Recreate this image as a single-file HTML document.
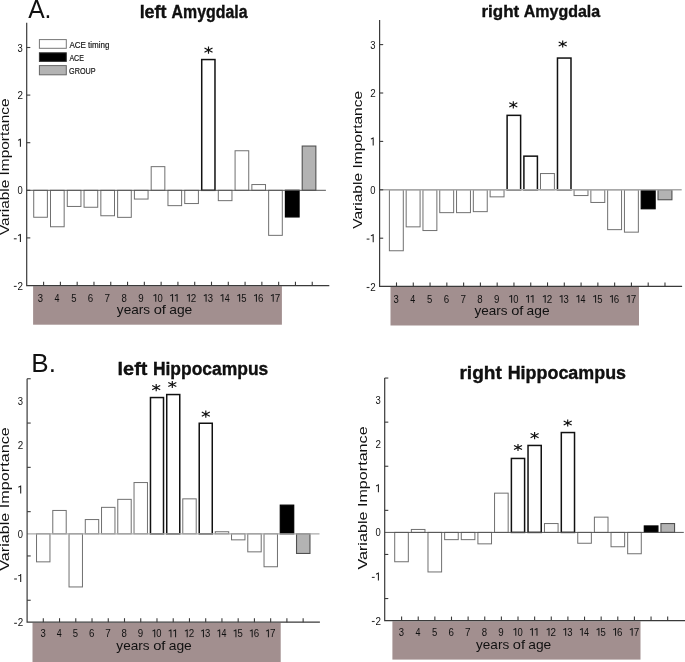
<!DOCTYPE html>
<html><head><meta charset="utf-8"><title>Variable Importance</title>
<style>html,body{margin:0;padding:0;background:#fff;}body{width:685px;height:662px;overflow:hidden;font-family:"Liberation Sans",sans-serif;}svg{display:block;will-change:transform;}</style>
</head><body>
<svg width="685" height="662" viewBox="0 0 685 662" font-family="Liberation Sans, sans-serif">
<rect x="33.1" y="286.2" width="248.8" height="38.5" fill="#a28f8f"/>
<rect x="33.72" y="190.3" width="13.66" height="26.95" fill="#fff" stroke="#707070" stroke-width="1.0"/>
<rect x="50.5" y="190.3" width="13.66" height="36.45" fill="#fff" stroke="#707070" stroke-width="1.0"/>
<rect x="67.28" y="190.3" width="13.66" height="16.15" fill="#fff" stroke="#707070" stroke-width="1.0"/>
<rect x="84.06" y="190.3" width="13.66" height="16.95" fill="#fff" stroke="#707070" stroke-width="1.0"/>
<rect x="100.84" y="190.3" width="13.66" height="25.45" fill="#fff" stroke="#707070" stroke-width="1.0"/>
<rect x="117.62" y="190.3" width="13.66" height="27.05" fill="#fff" stroke="#707070" stroke-width="1.0"/>
<rect x="134.4" y="190.3" width="13.66" height="8.75" fill="#fff" stroke="#707070" stroke-width="1.0"/>
<rect x="151.18" y="166.65" width="13.66" height="23.65" fill="#fff" stroke="#707070" stroke-width="1.0"/>
<rect x="167.96" y="190.3" width="13.66" height="15.35" fill="#fff" stroke="#707070" stroke-width="1.0"/>
<rect x="184.74" y="190.3" width="13.66" height="13.25" fill="#fff" stroke="#707070" stroke-width="1.0"/>
<rect x="201.72" y="59.55" width="13.26" height="130.75" fill="#fff" stroke="#111" stroke-width="1.5"/>
<rect x="218.3" y="190.3" width="13.66" height="10.35" fill="#fff" stroke="#707070" stroke-width="1.0"/>
<rect x="235.08" y="150.75" width="13.66" height="39.55" fill="#fff" stroke="#707070" stroke-width="1.0"/>
<rect x="251.86" y="184.55" width="13.66" height="5.75" fill="#fff" stroke="#707070" stroke-width="1.0"/>
<rect x="268.64" y="190.3" width="13.66" height="45.05" fill="#fff" stroke="#707070" stroke-width="1.0"/>
<rect x="285.42" y="190.3" width="13.66" height="26.65" fill="#000" stroke="#000" stroke-width="1.2"/>
<rect x="302.2" y="146.05" width="13.66" height="44.25" fill="#b3b3b3" stroke="#505050" stroke-width="1.1"/>
<line x1="26.7" y1="190.3" x2="325.9" y2="190.3" stroke="#555" stroke-width="1.0"/>
<path d="M26.7 22.8L26.7 285.7L329.3 285.7" stroke="#3a3a3a" stroke-width="1.2" fill="none"/>
<line x1="43.6" y1="281.7" x2="43.6" y2="285.7" stroke="#3a3a3a" stroke-width="1.1"/>
<line x1="60.39" y1="281.7" x2="60.39" y2="285.7" stroke="#3a3a3a" stroke-width="1.1"/>
<line x1="77.18" y1="281.7" x2="77.18" y2="285.7" stroke="#3a3a3a" stroke-width="1.1"/>
<line x1="93.97" y1="281.7" x2="93.97" y2="285.7" stroke="#3a3a3a" stroke-width="1.1"/>
<line x1="110.76" y1="281.7" x2="110.76" y2="285.7" stroke="#3a3a3a" stroke-width="1.1"/>
<line x1="127.55" y1="281.7" x2="127.55" y2="285.7" stroke="#3a3a3a" stroke-width="1.1"/>
<line x1="144.34" y1="281.7" x2="144.34" y2="285.7" stroke="#3a3a3a" stroke-width="1.1"/>
<line x1="161.13" y1="281.7" x2="161.13" y2="285.7" stroke="#3a3a3a" stroke-width="1.1"/>
<line x1="177.92" y1="281.7" x2="177.92" y2="285.7" stroke="#3a3a3a" stroke-width="1.1"/>
<line x1="194.71" y1="281.7" x2="194.71" y2="285.7" stroke="#3a3a3a" stroke-width="1.1"/>
<line x1="211.5" y1="281.7" x2="211.5" y2="285.7" stroke="#3a3a3a" stroke-width="1.1"/>
<line x1="228.29" y1="281.7" x2="228.29" y2="285.7" stroke="#3a3a3a" stroke-width="1.1"/>
<line x1="245.08" y1="281.7" x2="245.08" y2="285.7" stroke="#3a3a3a" stroke-width="1.1"/>
<line x1="261.87" y1="281.7" x2="261.87" y2="285.7" stroke="#3a3a3a" stroke-width="1.1"/>
<line x1="278.66" y1="281.7" x2="278.66" y2="285.7" stroke="#3a3a3a" stroke-width="1.1"/>
<line x1="295.45" y1="281.7" x2="295.45" y2="285.7" stroke="#3a3a3a" stroke-width="1.1"/>
<line x1="312.24" y1="281.7" x2="312.24" y2="285.7" stroke="#3a3a3a" stroke-width="1.1"/>
<line x1="26.7" y1="47.5" x2="30.3" y2="47.5" stroke="#3a3a3a" stroke-width="1.1"/>
<line x1="26.7" y1="95.1" x2="30.3" y2="95.1" stroke="#3a3a3a" stroke-width="1.1"/>
<line x1="26.7" y1="142.7" x2="30.3" y2="142.7" stroke="#3a3a3a" stroke-width="1.1"/>
<line x1="26.7" y1="190.3" x2="30.3" y2="190.3" stroke="#3a3a3a" stroke-width="1.1"/>
<line x1="26.7" y1="237.9" x2="30.3" y2="237.9" stroke="#3a3a3a" stroke-width="1.1"/>
<rect x="13.85" y="285.85" width="2.8" height="1.1" fill="#333"/>
<text x="17.38" y="289.5" font-size="11.3" textLength="5.49" lengthAdjust="spacingAndGlyphs" fill="#111">2</text>
<rect x="13.85" y="238.25" width="2.8" height="1.1" fill="#333"/>
<path d="M20.4 233.9V241.9M20.7 234.25L18.1 235.6" stroke="#1a1a1a" stroke-width="1.05" fill="none"/>
<text x="17.51" y="194.3" font-size="11.3" textLength="5.24" lengthAdjust="spacingAndGlyphs" fill="#111">0</text>
<path d="M20.4 138.7V146.7M20.7 139.05L18.1 140.4" stroke="#1a1a1a" stroke-width="1.05" fill="none"/>
<text x="17.38" y="99.1" font-size="11.3" textLength="5.49" lengthAdjust="spacingAndGlyphs" fill="#111">2</text>
<text x="17.51" y="51.5" font-size="11.3" textLength="5.28" lengthAdjust="spacingAndGlyphs" fill="#111">3</text>
<text x="37.64" y="301.8" font-size="11" textLength="5.28" lengthAdjust="spacingAndGlyphs" fill="#111">3</text>
<text x="54.58" y="301.8" font-size="11" textLength="4.97" lengthAdjust="spacingAndGlyphs" fill="#111">4</text>
<text x="71.18" y="301.8" font-size="11" textLength="5.28" lengthAdjust="spacingAndGlyphs" fill="#111">5</text>
<text x="87.84" y="301.8" font-size="11" textLength="5.42" lengthAdjust="spacingAndGlyphs" fill="#111">6</text>
<text x="104.61" y="301.8" font-size="11" textLength="5.51" lengthAdjust="spacingAndGlyphs" fill="#111">7</text>
<text x="121.48" y="301.8" font-size="11" textLength="5.33" lengthAdjust="spacingAndGlyphs" fill="#111">8</text>
<text x="138.22" y="301.8" font-size="11" textLength="5.42" lengthAdjust="spacingAndGlyphs" fill="#111">9</text>
<path d="M155.76 294V301.8M156.06 294.35L153.46 295.7" stroke="#1a1a1a" stroke-width="1.05" fill="none"/>
<text x="157.39" y="301.8" font-size="11" textLength="5.24" lengthAdjust="spacingAndGlyphs" fill="#111">0</text>
<path d="M172.54 294V301.8M172.84 294.35L170.24 295.7" stroke="#1a1a1a" stroke-width="1.05" fill="none"/>
<path d="M177.14 294V301.8M177.44 294.35L174.84 295.7" stroke="#1a1a1a" stroke-width="1.05" fill="none"/>
<path d="M189.32 294V301.8M189.62 294.35L187.02 295.7" stroke="#1a1a1a" stroke-width="1.05" fill="none"/>
<text x="190.82" y="301.8" font-size="11" textLength="5.49" lengthAdjust="spacingAndGlyphs" fill="#111">2</text>
<path d="M206.1 294V301.8M206.4 294.35L203.8 295.7" stroke="#1a1a1a" stroke-width="1.05" fill="none"/>
<text x="207.74" y="301.8" font-size="11" textLength="5.28" lengthAdjust="spacingAndGlyphs" fill="#111">3</text>
<path d="M222.88 294V301.8M223.18 294.35L220.58 295.7" stroke="#1a1a1a" stroke-width="1.05" fill="none"/>
<text x="224.68" y="301.8" font-size="11" textLength="4.97" lengthAdjust="spacingAndGlyphs" fill="#111">4</text>
<path d="M239.66 294V301.8M239.96 294.35L237.36 295.7" stroke="#1a1a1a" stroke-width="1.05" fill="none"/>
<text x="241.28" y="301.8" font-size="11" textLength="5.28" lengthAdjust="spacingAndGlyphs" fill="#111">5</text>
<path d="M256.44 294V301.8M256.74 294.35L254.14 295.7" stroke="#1a1a1a" stroke-width="1.05" fill="none"/>
<text x="257.94" y="301.8" font-size="11" textLength="5.42" lengthAdjust="spacingAndGlyphs" fill="#111">6</text>
<path d="M273.22 294V301.8M273.52 294.35L270.92 295.7" stroke="#1a1a1a" stroke-width="1.05" fill="none"/>
<text x="274.71" y="301.8" font-size="11" textLength="5.51" lengthAdjust="spacingAndGlyphs" fill="#111">7</text>
<text x="116.87" y="314" font-size="12.6" textLength="33.22" lengthAdjust="spacingAndGlyphs" fill="#111">years</text>
<text x="153.68" y="314" font-size="12.6" textLength="12.3" lengthAdjust="spacingAndGlyphs" fill="#111">of</text>
<text x="169.21" y="314" font-size="12.6" textLength="23.1" lengthAdjust="spacingAndGlyphs" fill="#111">age</text>
<text x="139.65" y="18.3" font-size="17.6" font-weight="bold" textLength="26.87" lengthAdjust="spacingAndGlyphs" fill="#111" stroke="#000" stroke-width="0.35">left</text>
<text x="171.6" y="18.3" font-size="17.6" font-weight="bold" textLength="75.89" lengthAdjust="spacingAndGlyphs" fill="#111" stroke="#000" stroke-width="0.35">Amygdala</text>
<text transform="translate(9.1 235) rotate(-90)" x="-0.07" y="0" font-size="12.3" textLength="136.65" lengthAdjust="spacingAndGlyphs" fill="#111">Variable Importance</text>
<path d="M208.5 46.5L208.5 53.7M204.49 48.06L212.51 52.14M204.49 52.14L212.51 48.06" stroke="#111" stroke-width="1.15" fill="none"/>
<rect x="390.5" y="287" width="248.5" height="38.5" fill="#a28f8f"/>
<rect x="389.38" y="189.8" width="13.91" height="60.95" fill="#fff" stroke="#707070" stroke-width="1.0"/>
<rect x="406.17" y="189.8" width="13.91" height="37.05" fill="#fff" stroke="#707070" stroke-width="1.0"/>
<rect x="422.96" y="189.8" width="13.91" height="40.75" fill="#fff" stroke="#707070" stroke-width="1.0"/>
<rect x="439.75" y="189.8" width="13.91" height="22.85" fill="#fff" stroke="#707070" stroke-width="1.0"/>
<rect x="456.54" y="189.8" width="13.91" height="22.85" fill="#fff" stroke="#707070" stroke-width="1.0"/>
<rect x="473.33" y="189.8" width="13.91" height="21.85" fill="#fff" stroke="#707070" stroke-width="1.0"/>
<rect x="490.12" y="189.8" width="13.91" height="7.05" fill="#fff" stroke="#707070" stroke-width="1.0"/>
<rect x="507.11" y="115.35" width="13.51" height="74.45" fill="#fff" stroke="#111" stroke-width="1.5"/>
<rect x="523.9" y="156.15" width="13.51" height="33.65" fill="#fff" stroke="#111" stroke-width="1.5"/>
<rect x="540.49" y="173.55" width="13.91" height="16.25" fill="#fff" stroke="#707070" stroke-width="1.0"/>
<rect x="557.48" y="58.05" width="13.51" height="131.75" fill="#fff" stroke="#111" stroke-width="1.5"/>
<rect x="574.07" y="189.8" width="13.91" height="5.75" fill="#fff" stroke="#707070" stroke-width="1.0"/>
<rect x="590.86" y="189.8" width="13.91" height="12.65" fill="#fff" stroke="#707070" stroke-width="1.0"/>
<rect x="607.65" y="189.8" width="13.91" height="39.85" fill="#fff" stroke="#707070" stroke-width="1.0"/>
<rect x="624.44" y="189.8" width="13.91" height="42.35" fill="#fff" stroke="#707070" stroke-width="1.0"/>
<rect x="641.23" y="189.8" width="13.91" height="18.95" fill="#000" stroke="#000" stroke-width="1.2"/>
<rect x="658.02" y="189.8" width="13.91" height="9.95" fill="#b3b3b3" stroke="#505050" stroke-width="1.1"/>
<line x1="379.6" y1="189.8" x2="681.7" y2="189.8" stroke="#a8a8a8" stroke-width="1.4"/>
<path d="M379.6 19.9L379.6 286.4L682.1 286.4" stroke="#3a3a3a" stroke-width="1.2" fill="none"/>
<line x1="396.5" y1="282.4" x2="396.5" y2="286.4" stroke="#3a3a3a" stroke-width="1.1"/>
<line x1="413.28" y1="282.4" x2="413.28" y2="286.4" stroke="#3a3a3a" stroke-width="1.1"/>
<line x1="430.06" y1="282.4" x2="430.06" y2="286.4" stroke="#3a3a3a" stroke-width="1.1"/>
<line x1="446.84" y1="282.4" x2="446.84" y2="286.4" stroke="#3a3a3a" stroke-width="1.1"/>
<line x1="463.62" y1="282.4" x2="463.62" y2="286.4" stroke="#3a3a3a" stroke-width="1.1"/>
<line x1="480.4" y1="282.4" x2="480.4" y2="286.4" stroke="#3a3a3a" stroke-width="1.1"/>
<line x1="497.18" y1="282.4" x2="497.18" y2="286.4" stroke="#3a3a3a" stroke-width="1.1"/>
<line x1="513.96" y1="282.4" x2="513.96" y2="286.4" stroke="#3a3a3a" stroke-width="1.1"/>
<line x1="530.74" y1="282.4" x2="530.74" y2="286.4" stroke="#3a3a3a" stroke-width="1.1"/>
<line x1="547.52" y1="282.4" x2="547.52" y2="286.4" stroke="#3a3a3a" stroke-width="1.1"/>
<line x1="564.3" y1="282.4" x2="564.3" y2="286.4" stroke="#3a3a3a" stroke-width="1.1"/>
<line x1="581.08" y1="282.4" x2="581.08" y2="286.4" stroke="#3a3a3a" stroke-width="1.1"/>
<line x1="597.86" y1="282.4" x2="597.86" y2="286.4" stroke="#3a3a3a" stroke-width="1.1"/>
<line x1="614.64" y1="282.4" x2="614.64" y2="286.4" stroke="#3a3a3a" stroke-width="1.1"/>
<line x1="631.42" y1="282.4" x2="631.42" y2="286.4" stroke="#3a3a3a" stroke-width="1.1"/>
<line x1="648.2" y1="282.4" x2="648.2" y2="286.4" stroke="#3a3a3a" stroke-width="1.1"/>
<line x1="664.98" y1="282.4" x2="664.98" y2="286.4" stroke="#3a3a3a" stroke-width="1.1"/>
<line x1="379.6" y1="44.6" x2="383.2" y2="44.6" stroke="#3a3a3a" stroke-width="1.1"/>
<line x1="379.6" y1="93" x2="383.2" y2="93" stroke="#3a3a3a" stroke-width="1.1"/>
<line x1="379.6" y1="141.4" x2="383.2" y2="141.4" stroke="#3a3a3a" stroke-width="1.1"/>
<line x1="379.6" y1="189.8" x2="383.2" y2="189.8" stroke="#3a3a3a" stroke-width="1.1"/>
<line x1="379.6" y1="238.2" x2="383.2" y2="238.2" stroke="#3a3a3a" stroke-width="1.1"/>
<rect x="366.65" y="286.95" width="2.8" height="1.1" fill="#333"/>
<text x="370.18" y="290.6" font-size="11.3" textLength="5.49" lengthAdjust="spacingAndGlyphs" fill="#111">2</text>
<rect x="366.65" y="238.55" width="2.8" height="1.1" fill="#333"/>
<path d="M373.2 234.2V242.2M373.5 234.55L370.9 235.9" stroke="#1a1a1a" stroke-width="1.05" fill="none"/>
<text x="370.31" y="193.8" font-size="11.3" textLength="5.24" lengthAdjust="spacingAndGlyphs" fill="#111">0</text>
<path d="M373.2 137.4V145.4M373.5 137.75L370.9 139.1" stroke="#1a1a1a" stroke-width="1.05" fill="none"/>
<text x="370.18" y="97" font-size="11.3" textLength="5.49" lengthAdjust="spacingAndGlyphs" fill="#111">2</text>
<text x="370.31" y="48.6" font-size="11.3" textLength="5.28" lengthAdjust="spacingAndGlyphs" fill="#111">3</text>
<text x="393.42" y="302.8" font-size="11" textLength="5.28" lengthAdjust="spacingAndGlyphs" fill="#111">3</text>
<text x="410.37" y="302.8" font-size="11" textLength="4.97" lengthAdjust="spacingAndGlyphs" fill="#111">4</text>
<text x="426.98" y="302.8" font-size="11" textLength="5.28" lengthAdjust="spacingAndGlyphs" fill="#111">5</text>
<text x="443.66" y="302.8" font-size="11" textLength="5.42" lengthAdjust="spacingAndGlyphs" fill="#111">6</text>
<text x="460.44" y="302.8" font-size="11" textLength="5.51" lengthAdjust="spacingAndGlyphs" fill="#111">7</text>
<text x="477.32" y="302.8" font-size="11" textLength="5.33" lengthAdjust="spacingAndGlyphs" fill="#111">8</text>
<text x="494.07" y="302.8" font-size="11" textLength="5.42" lengthAdjust="spacingAndGlyphs" fill="#111">9</text>
<path d="M511.62 295V302.8M511.92 295.35L509.31 296.7" stroke="#1a1a1a" stroke-width="1.05" fill="none"/>
<text x="513.25" y="302.8" font-size="11" textLength="5.24" lengthAdjust="spacingAndGlyphs" fill="#111">0</text>
<path d="M528.41 295V302.8M528.71 295.35L526.11 296.7" stroke="#1a1a1a" stroke-width="1.05" fill="none"/>
<path d="M533.01 295V302.8M533.31 295.35L530.71 296.7" stroke="#1a1a1a" stroke-width="1.05" fill="none"/>
<path d="M545.2 295V302.8M545.5 295.35L542.9 296.7" stroke="#1a1a1a" stroke-width="1.05" fill="none"/>
<text x="546.7" y="302.8" font-size="11" textLength="5.49" lengthAdjust="spacingAndGlyphs" fill="#111">2</text>
<path d="M561.99 295V302.8M562.28 295.35L559.69 296.7" stroke="#1a1a1a" stroke-width="1.05" fill="none"/>
<text x="563.62" y="302.8" font-size="11" textLength="5.28" lengthAdjust="spacingAndGlyphs" fill="#111">3</text>
<path d="M578.77 295V302.8M579.07 295.35L576.48 296.7" stroke="#1a1a1a" stroke-width="1.05" fill="none"/>
<text x="580.57" y="302.8" font-size="11" textLength="4.97" lengthAdjust="spacingAndGlyphs" fill="#111">4</text>
<path d="M595.57 295V302.8M595.87 295.35L593.27 296.7" stroke="#1a1a1a" stroke-width="1.05" fill="none"/>
<text x="597.18" y="302.8" font-size="11" textLength="5.28" lengthAdjust="spacingAndGlyphs" fill="#111">5</text>
<path d="M612.36 295V302.8M612.65 295.35L610.06 296.7" stroke="#1a1a1a" stroke-width="1.05" fill="none"/>
<text x="613.86" y="302.8" font-size="11" textLength="5.42" lengthAdjust="spacingAndGlyphs" fill="#111">6</text>
<path d="M629.15 295V302.8M629.45 295.35L626.85 296.7" stroke="#1a1a1a" stroke-width="1.05" fill="none"/>
<text x="630.64" y="302.8" font-size="11" textLength="5.51" lengthAdjust="spacingAndGlyphs" fill="#111">7</text>
<text x="474.57" y="314.8" font-size="12.6" textLength="33.05" lengthAdjust="spacingAndGlyphs" fill="#111">years</text>
<text x="511.18" y="314.8" font-size="12.6" textLength="12.23" lengthAdjust="spacingAndGlyphs" fill="#111">of</text>
<text x="526.63" y="314.8" font-size="12.6" textLength="22.98" lengthAdjust="spacingAndGlyphs" fill="#111">age</text>
<text x="481.48" y="16.6" font-size="17.4" font-weight="bold" textLength="37.73" lengthAdjust="spacingAndGlyphs" fill="#111" stroke="#000" stroke-width="0.35">right</text>
<text x="523.8" y="16.6" font-size="17.4" font-weight="bold" textLength="76.4" lengthAdjust="spacingAndGlyphs" fill="#111" stroke="#000" stroke-width="0.35">Amygdala</text>
<text transform="translate(361.5 228.7) rotate(-90)" x="-0.07" y="0" font-size="12.3" textLength="137.95" lengthAdjust="spacingAndGlyphs" fill="#111">Variable Importance</text>
<path d="M513.3 101.3L513.3 108.5M509.29 102.86L517.31 106.94M509.29 106.94L517.31 102.86" stroke="#111" stroke-width="1.15" fill="none"/>
<path d="M562.7 40.4L562.7 47.6M558.69 41.96L566.71 46.04M558.69 46.04L566.71 41.96" stroke="#111" stroke-width="1.15" fill="none"/>
<rect x="32.5" y="622.8" width="248.2" height="39.2" fill="#a28f8f"/>
<rect x="36.53" y="533.8" width="13.43" height="28.05" fill="#fff" stroke="#707070" stroke-width="1.0"/>
<rect x="52.78" y="510.45" width="13.43" height="23.35" fill="#fff" stroke="#707070" stroke-width="1.0"/>
<rect x="69.03" y="533.8" width="13.43" height="53.15" fill="#fff" stroke="#707070" stroke-width="1.0"/>
<rect x="85.28" y="519.55" width="13.43" height="14.25" fill="#fff" stroke="#707070" stroke-width="1.0"/>
<rect x="101.53" y="507.35" width="13.43" height="26.45" fill="#fff" stroke="#707070" stroke-width="1.0"/>
<rect x="117.78" y="499.35" width="13.43" height="34.45" fill="#fff" stroke="#707070" stroke-width="1.0"/>
<rect x="134.03" y="482.55" width="13.43" height="51.25" fill="#fff" stroke="#707070" stroke-width="1.0"/>
<rect x="150.48" y="397.55" width="13.03" height="136.25" fill="#fff" stroke="#111" stroke-width="1.5"/>
<rect x="166.73" y="394.55" width="13.03" height="139.25" fill="#fff" stroke="#111" stroke-width="1.5"/>
<rect x="182.78" y="498.85" width="13.43" height="34.95" fill="#fff" stroke="#707070" stroke-width="1.0"/>
<rect x="199.23" y="423.25" width="13.03" height="110.55" fill="#fff" stroke="#111" stroke-width="1.5"/>
<rect x="215.28" y="531.75" width="13.43" height="2.05" fill="#fff" stroke="#707070" stroke-width="1.0"/>
<rect x="231.53" y="533.8" width="13.43" height="6.05" fill="#fff" stroke="#707070" stroke-width="1.0"/>
<rect x="247.78" y="533.8" width="13.43" height="18.05" fill="#fff" stroke="#707070" stroke-width="1.0"/>
<rect x="264.03" y="533.8" width="13.43" height="32.95" fill="#fff" stroke="#707070" stroke-width="1.0"/>
<rect x="280.28" y="505.15" width="13.43" height="28.65" fill="#000" stroke="#000" stroke-width="1.2"/>
<rect x="296.53" y="533.8" width="13.43" height="19.65" fill="#b3b3b3" stroke="#505050" stroke-width="1.1"/>
<line x1="27.1" y1="533.8" x2="319.5" y2="533.8" stroke="#aaaaaa" stroke-width="1.3"/>
<path d="M27.1 378.7L27.1 622.2L319.9 622.2" stroke="#3a3a3a" stroke-width="1.2" fill="none"/>
<line x1="43.3" y1="618.2" x2="43.3" y2="622.2" stroke="#3a3a3a" stroke-width="1.1"/>
<line x1="59.54" y1="618.2" x2="59.54" y2="622.2" stroke="#3a3a3a" stroke-width="1.1"/>
<line x1="75.78" y1="618.2" x2="75.78" y2="622.2" stroke="#3a3a3a" stroke-width="1.1"/>
<line x1="92.02" y1="618.2" x2="92.02" y2="622.2" stroke="#3a3a3a" stroke-width="1.1"/>
<line x1="108.26" y1="618.2" x2="108.26" y2="622.2" stroke="#3a3a3a" stroke-width="1.1"/>
<line x1="124.5" y1="618.2" x2="124.5" y2="622.2" stroke="#3a3a3a" stroke-width="1.1"/>
<line x1="140.74" y1="618.2" x2="140.74" y2="622.2" stroke="#3a3a3a" stroke-width="1.1"/>
<line x1="156.98" y1="618.2" x2="156.98" y2="622.2" stroke="#3a3a3a" stroke-width="1.1"/>
<line x1="173.22" y1="618.2" x2="173.22" y2="622.2" stroke="#3a3a3a" stroke-width="1.1"/>
<line x1="189.46" y1="618.2" x2="189.46" y2="622.2" stroke="#3a3a3a" stroke-width="1.1"/>
<line x1="205.7" y1="618.2" x2="205.7" y2="622.2" stroke="#3a3a3a" stroke-width="1.1"/>
<line x1="221.94" y1="618.2" x2="221.94" y2="622.2" stroke="#3a3a3a" stroke-width="1.1"/>
<line x1="238.18" y1="618.2" x2="238.18" y2="622.2" stroke="#3a3a3a" stroke-width="1.1"/>
<line x1="254.42" y1="618.2" x2="254.42" y2="622.2" stroke="#3a3a3a" stroke-width="1.1"/>
<line x1="270.66" y1="618.2" x2="270.66" y2="622.2" stroke="#3a3a3a" stroke-width="1.1"/>
<line x1="286.9" y1="618.2" x2="286.9" y2="622.2" stroke="#3a3a3a" stroke-width="1.1"/>
<line x1="303.14" y1="618.2" x2="303.14" y2="622.2" stroke="#3a3a3a" stroke-width="1.1"/>
<line x1="27.1" y1="378.75" x2="30.7" y2="378.75" stroke="#3a3a3a" stroke-width="1.1"/>
<line x1="27.1" y1="423.05" x2="30.7" y2="423.05" stroke="#3a3a3a" stroke-width="1.1"/>
<line x1="27.1" y1="467.35" x2="30.7" y2="467.35" stroke="#3a3a3a" stroke-width="1.1"/>
<line x1="27.1" y1="511.65" x2="30.7" y2="511.65" stroke="#3a3a3a" stroke-width="1.1"/>
<line x1="27.1" y1="555.95" x2="30.7" y2="555.95" stroke="#3a3a3a" stroke-width="1.1"/>
<line x1="27.1" y1="600.25" x2="30.7" y2="600.25" stroke="#3a3a3a" stroke-width="1.1"/>
<rect x="14.15" y="622.75" width="2.8" height="1.1" fill="#333"/>
<text x="17.68" y="626.4" font-size="11.3" textLength="5.49" lengthAdjust="spacingAndGlyphs" fill="#111">2</text>
<rect x="14.15" y="578.45" width="2.8" height="1.1" fill="#333"/>
<path d="M20.7 574.1V582.1M21 574.45L18.4 575.8" stroke="#1a1a1a" stroke-width="1.05" fill="none"/>
<text x="17.81" y="537.8" font-size="11.3" textLength="5.24" lengthAdjust="spacingAndGlyphs" fill="#111">0</text>
<path d="M20.7 485.5V493.5M21 485.85L18.4 487.2" stroke="#1a1a1a" stroke-width="1.05" fill="none"/>
<text x="17.68" y="449.2" font-size="11.3" textLength="5.49" lengthAdjust="spacingAndGlyphs" fill="#111">2</text>
<text x="17.81" y="404.9" font-size="11.3" textLength="5.28" lengthAdjust="spacingAndGlyphs" fill="#111">3</text>
<text x="40.39" y="637.2" font-size="11" textLength="5.28" lengthAdjust="spacingAndGlyphs" fill="#111">3</text>
<text x="56.79" y="637.2" font-size="11" textLength="4.97" lengthAdjust="spacingAndGlyphs" fill="#111">4</text>
<text x="72.85" y="637.2" font-size="11" textLength="5.28" lengthAdjust="spacingAndGlyphs" fill="#111">5</text>
<text x="88.97" y="637.2" font-size="11" textLength="5.42" lengthAdjust="spacingAndGlyphs" fill="#111">6</text>
<text x="105.2" y="637.2" font-size="11" textLength="5.51" lengthAdjust="spacingAndGlyphs" fill="#111">7</text>
<text x="121.53" y="637.2" font-size="11" textLength="5.33" lengthAdjust="spacingAndGlyphs" fill="#111">8</text>
<text x="137.73" y="637.2" font-size="11" textLength="5.42" lengthAdjust="spacingAndGlyphs" fill="#111">9</text>
<path d="M154.73 629.4V637.2M155.03 629.75L152.43 631.1" stroke="#1a1a1a" stroke-width="1.05" fill="none"/>
<text x="156.36" y="637.2" font-size="11" textLength="5.24" lengthAdjust="spacingAndGlyphs" fill="#111">0</text>
<path d="M170.97 629.4V637.2M171.27 629.75L168.67 631.1" stroke="#1a1a1a" stroke-width="1.05" fill="none"/>
<path d="M175.57 629.4V637.2M175.87 629.75L173.27 631.1" stroke="#1a1a1a" stroke-width="1.05" fill="none"/>
<path d="M187.21 629.4V637.2M187.51 629.75L184.91 631.1" stroke="#1a1a1a" stroke-width="1.05" fill="none"/>
<text x="188.71" y="637.2" font-size="11" textLength="5.49" lengthAdjust="spacingAndGlyphs" fill="#111">2</text>
<path d="M203.45 629.4V637.2M203.75 629.75L201.15 631.1" stroke="#1a1a1a" stroke-width="1.05" fill="none"/>
<text x="205.09" y="637.2" font-size="11" textLength="5.28" lengthAdjust="spacingAndGlyphs" fill="#111">3</text>
<path d="M219.69 629.4V637.2M219.99 629.75L217.39 631.1" stroke="#1a1a1a" stroke-width="1.05" fill="none"/>
<text x="221.49" y="637.2" font-size="11" textLength="4.97" lengthAdjust="spacingAndGlyphs" fill="#111">4</text>
<path d="M235.93 629.4V637.2M236.23 629.75L233.63 631.1" stroke="#1a1a1a" stroke-width="1.05" fill="none"/>
<text x="237.55" y="637.2" font-size="11" textLength="5.28" lengthAdjust="spacingAndGlyphs" fill="#111">5</text>
<path d="M252.17 629.4V637.2M252.47 629.75L249.87 631.1" stroke="#1a1a1a" stroke-width="1.05" fill="none"/>
<text x="253.67" y="637.2" font-size="11" textLength="5.42" lengthAdjust="spacingAndGlyphs" fill="#111">6</text>
<path d="M268.41 629.4V637.2M268.71 629.75L266.11 631.1" stroke="#1a1a1a" stroke-width="1.05" fill="none"/>
<text x="269.9" y="637.2" font-size="11" textLength="5.51" lengthAdjust="spacingAndGlyphs" fill="#111">7</text>
<text x="116.37" y="649.9" font-size="12.6" textLength="33.22" lengthAdjust="spacingAndGlyphs" fill="#111">years</text>
<text x="153.18" y="649.9" font-size="12.6" textLength="12.3" lengthAdjust="spacingAndGlyphs" fill="#111">of</text>
<text x="168.71" y="649.9" font-size="12.6" textLength="23.1" lengthAdjust="spacingAndGlyphs" fill="#111">age</text>
<text x="117.62" y="374.8" font-size="18.8" font-weight="bold" textLength="29.73" lengthAdjust="spacingAndGlyphs" fill="#111" stroke="#000" stroke-width="0.35">left</text>
<text x="152.93" y="374.8" font-size="18.8" font-weight="bold" textLength="115.38" lengthAdjust="spacingAndGlyphs" fill="#111" stroke="#000" stroke-width="0.35">Hippocampus</text>
<text transform="translate(9.1 570.7) rotate(-90)" x="-0.07" y="0" font-size="13" textLength="143.48" lengthAdjust="spacingAndGlyphs" fill="#111">Variable Importance</text>
<path d="M156.2 384L156.2 391.2M152.19 385.56L160.21 389.64M152.19 389.64L160.21 385.56" stroke="#111" stroke-width="1.15" fill="none"/>
<path d="M172.3 380.9L172.3 388.1M168.29 382.46L176.31 386.54M168.29 386.54L176.31 382.46" stroke="#111" stroke-width="1.15" fill="none"/>
<path d="M205.8 410.5L205.8 417.7M201.79 412.06L209.81 416.14M201.79 416.14L209.81 412.06" stroke="#111" stroke-width="1.15" fill="none"/>
<rect x="392.4" y="621.3" width="248.1" height="38.3" fill="#a28f8f"/>
<rect x="394.71" y="532.4" width="13.61" height="29.35" fill="#fff" stroke="#707070" stroke-width="1.0"/>
<rect x="411.35" y="529.45" width="13.61" height="2.95" fill="#fff" stroke="#707070" stroke-width="1.0"/>
<rect x="427.99" y="532.4" width="13.61" height="39.55" fill="#fff" stroke="#707070" stroke-width="1.0"/>
<rect x="444.63" y="532.4" width="13.61" height="7.25" fill="#fff" stroke="#707070" stroke-width="1.0"/>
<rect x="461.27" y="532.4" width="13.61" height="7.25" fill="#fff" stroke="#707070" stroke-width="1.0"/>
<rect x="477.91" y="532.4" width="13.61" height="11.45" fill="#fff" stroke="#707070" stroke-width="1.0"/>
<rect x="494.55" y="493.15" width="13.61" height="39.25" fill="#fff" stroke="#707070" stroke-width="1.0"/>
<rect x="511.39" y="458.45" width="13.21" height="73.95" fill="#fff" stroke="#111" stroke-width="1.5"/>
<rect x="528.03" y="445.45" width="13.21" height="86.95" fill="#fff" stroke="#111" stroke-width="1.5"/>
<rect x="544.47" y="523.55" width="13.61" height="8.85" fill="#fff" stroke="#707070" stroke-width="1.0"/>
<rect x="561.31" y="432.55" width="13.21" height="99.85" fill="#fff" stroke="#111" stroke-width="1.5"/>
<rect x="577.75" y="532.4" width="13.61" height="10.85" fill="#fff" stroke="#707070" stroke-width="1.0"/>
<rect x="594.39" y="517.15" width="13.61" height="15.25" fill="#fff" stroke="#707070" stroke-width="1.0"/>
<rect x="611.03" y="532.4" width="13.61" height="14.35" fill="#fff" stroke="#707070" stroke-width="1.0"/>
<rect x="627.67" y="532.4" width="13.61" height="21.35" fill="#fff" stroke="#707070" stroke-width="1.0"/>
<rect x="644.31" y="525.95" width="13.61" height="6.45" fill="#000" stroke="#000" stroke-width="1.2"/>
<rect x="660.95" y="523.55" width="13.61" height="8.85" fill="#b3b3b3" stroke="#505050" stroke-width="1.1"/>
<line x1="384.7" y1="532.4" x2="683.8" y2="532.4" stroke="#555" stroke-width="1.0"/>
<path d="M384.7 377.9L384.7 620.6L685 620.6" stroke="#3a3a3a" stroke-width="1.2" fill="none"/>
<line x1="401.6" y1="616.6" x2="401.6" y2="620.6" stroke="#3a3a3a" stroke-width="1.1"/>
<line x1="418.23" y1="616.6" x2="418.23" y2="620.6" stroke="#3a3a3a" stroke-width="1.1"/>
<line x1="434.86" y1="616.6" x2="434.86" y2="620.6" stroke="#3a3a3a" stroke-width="1.1"/>
<line x1="451.49" y1="616.6" x2="451.49" y2="620.6" stroke="#3a3a3a" stroke-width="1.1"/>
<line x1="468.12" y1="616.6" x2="468.12" y2="620.6" stroke="#3a3a3a" stroke-width="1.1"/>
<line x1="484.75" y1="616.6" x2="484.75" y2="620.6" stroke="#3a3a3a" stroke-width="1.1"/>
<line x1="501.38" y1="616.6" x2="501.38" y2="620.6" stroke="#3a3a3a" stroke-width="1.1"/>
<line x1="518.01" y1="616.6" x2="518.01" y2="620.6" stroke="#3a3a3a" stroke-width="1.1"/>
<line x1="534.64" y1="616.6" x2="534.64" y2="620.6" stroke="#3a3a3a" stroke-width="1.1"/>
<line x1="551.27" y1="616.6" x2="551.27" y2="620.6" stroke="#3a3a3a" stroke-width="1.1"/>
<line x1="567.9" y1="616.6" x2="567.9" y2="620.6" stroke="#3a3a3a" stroke-width="1.1"/>
<line x1="584.53" y1="616.6" x2="584.53" y2="620.6" stroke="#3a3a3a" stroke-width="1.1"/>
<line x1="601.16" y1="616.6" x2="601.16" y2="620.6" stroke="#3a3a3a" stroke-width="1.1"/>
<line x1="617.79" y1="616.6" x2="617.79" y2="620.6" stroke="#3a3a3a" stroke-width="1.1"/>
<line x1="634.42" y1="616.6" x2="634.42" y2="620.6" stroke="#3a3a3a" stroke-width="1.1"/>
<line x1="651.05" y1="616.6" x2="651.05" y2="620.6" stroke="#3a3a3a" stroke-width="1.1"/>
<line x1="667.68" y1="616.6" x2="667.68" y2="620.6" stroke="#3a3a3a" stroke-width="1.1"/>
<line x1="384.7" y1="378.05" x2="388.3" y2="378.05" stroke="#3a3a3a" stroke-width="1.1"/>
<line x1="384.7" y1="422.15" x2="388.3" y2="422.15" stroke="#3a3a3a" stroke-width="1.1"/>
<line x1="384.7" y1="466.25" x2="388.3" y2="466.25" stroke="#3a3a3a" stroke-width="1.1"/>
<line x1="384.7" y1="510.35" x2="388.3" y2="510.35" stroke="#3a3a3a" stroke-width="1.1"/>
<line x1="384.7" y1="554.45" x2="388.3" y2="554.45" stroke="#3a3a3a" stroke-width="1.1"/>
<line x1="384.7" y1="598.55" x2="388.3" y2="598.55" stroke="#3a3a3a" stroke-width="1.1"/>
<rect x="371.85" y="620.95" width="2.8" height="1.1" fill="#333"/>
<text x="375.38" y="624.6" font-size="11.3" textLength="5.49" lengthAdjust="spacingAndGlyphs" fill="#111">2</text>
<rect x="371.85" y="576.85" width="2.8" height="1.1" fill="#333"/>
<path d="M378.4 572.5V580.5M378.7 572.85L376.1 574.2" stroke="#1a1a1a" stroke-width="1.05" fill="none"/>
<text x="375.51" y="536.4" font-size="11.3" textLength="5.24" lengthAdjust="spacingAndGlyphs" fill="#111">0</text>
<path d="M378.4 484.3V492.3M378.7 484.65L376.1 486" stroke="#1a1a1a" stroke-width="1.05" fill="none"/>
<text x="375.38" y="448.2" font-size="11.3" textLength="5.49" lengthAdjust="spacingAndGlyphs" fill="#111">2</text>
<text x="375.51" y="404.1" font-size="11.3" textLength="5.28" lengthAdjust="spacingAndGlyphs" fill="#111">3</text>
<text x="398.69" y="635.8" font-size="11" textLength="5.28" lengthAdjust="spacingAndGlyphs" fill="#111">3</text>
<text x="415.48" y="635.8" font-size="11" textLength="4.97" lengthAdjust="spacingAndGlyphs" fill="#111">4</text>
<text x="431.93" y="635.8" font-size="11" textLength="5.28" lengthAdjust="spacingAndGlyphs" fill="#111">5</text>
<text x="448.44" y="635.8" font-size="11" textLength="5.42" lengthAdjust="spacingAndGlyphs" fill="#111">6</text>
<text x="465.06" y="635.8" font-size="11" textLength="5.51" lengthAdjust="spacingAndGlyphs" fill="#111">7</text>
<text x="481.78" y="635.8" font-size="11" textLength="5.33" lengthAdjust="spacingAndGlyphs" fill="#111">8</text>
<text x="498.37" y="635.8" font-size="11" textLength="5.42" lengthAdjust="spacingAndGlyphs" fill="#111">9</text>
<path d="M515.76 628V635.8M516.06 628.35L513.46 629.7" stroke="#1a1a1a" stroke-width="1.05" fill="none"/>
<text x="517.39" y="635.8" font-size="11" textLength="5.24" lengthAdjust="spacingAndGlyphs" fill="#111">0</text>
<path d="M532.39 628V635.8M532.69 628.35L530.09 629.7" stroke="#1a1a1a" stroke-width="1.05" fill="none"/>
<path d="M536.99 628V635.8M537.29 628.35L534.69 629.7" stroke="#1a1a1a" stroke-width="1.05" fill="none"/>
<path d="M549.02 628V635.8M549.32 628.35L546.72 629.7" stroke="#1a1a1a" stroke-width="1.05" fill="none"/>
<text x="550.52" y="635.8" font-size="11" textLength="5.49" lengthAdjust="spacingAndGlyphs" fill="#111">2</text>
<path d="M565.65 628V635.8M565.95 628.35L563.35 629.7" stroke="#1a1a1a" stroke-width="1.05" fill="none"/>
<text x="567.29" y="635.8" font-size="11" textLength="5.28" lengthAdjust="spacingAndGlyphs" fill="#111">3</text>
<path d="M582.28 628V635.8M582.58 628.35L579.98 629.7" stroke="#1a1a1a" stroke-width="1.05" fill="none"/>
<text x="584.08" y="635.8" font-size="11" textLength="4.97" lengthAdjust="spacingAndGlyphs" fill="#111">4</text>
<path d="M598.91 628V635.8M599.21 628.35L596.61 629.7" stroke="#1a1a1a" stroke-width="1.05" fill="none"/>
<text x="600.53" y="635.8" font-size="11" textLength="5.28" lengthAdjust="spacingAndGlyphs" fill="#111">5</text>
<path d="M615.54 628V635.8M615.84 628.35L613.24 629.7" stroke="#1a1a1a" stroke-width="1.05" fill="none"/>
<text x="617.04" y="635.8" font-size="11" textLength="5.42" lengthAdjust="spacingAndGlyphs" fill="#111">6</text>
<path d="M632.17 628V635.8M632.47 628.35L629.87 629.7" stroke="#1a1a1a" stroke-width="1.05" fill="none"/>
<text x="633.66" y="635.8" font-size="11" textLength="5.51" lengthAdjust="spacingAndGlyphs" fill="#111">7</text>
<text x="476.07" y="649.2" font-size="12.6" textLength="33.14" lengthAdjust="spacingAndGlyphs" fill="#111">years</text>
<text x="512.78" y="649.2" font-size="12.6" textLength="12.26" lengthAdjust="spacingAndGlyphs" fill="#111">of</text>
<text x="528.27" y="649.2" font-size="12.6" textLength="23.04" lengthAdjust="spacingAndGlyphs" fill="#111">age</text>
<text x="459.44" y="379.1" font-size="18.7" font-weight="bold" textLength="42.39" lengthAdjust="spacingAndGlyphs" fill="#111" stroke="#000" stroke-width="0.35">right</text>
<text x="507.7" y="379.1" font-size="18.7" font-weight="bold" textLength="118.33" lengthAdjust="spacingAndGlyphs" fill="#111" stroke="#000" stroke-width="0.35">Hippocampus</text>
<text transform="translate(366.9 569.5) rotate(-90)" x="-0.07" y="0" font-size="13" textLength="143.18" lengthAdjust="spacingAndGlyphs" fill="#111">Variable Importance</text>
<path d="M518 443.9L518 451.1M513.99 445.46L522.01 449.54M513.99 449.54L522.01 445.46" stroke="#111" stroke-width="1.15" fill="none"/>
<path d="M534.6 432L534.6 439.2M530.59 433.56L538.61 437.64M530.59 437.64L538.61 433.56" stroke="#111" stroke-width="1.15" fill="none"/>
<path d="M567.7 419.4L567.7 426.6M563.69 420.96L571.71 425.04M563.69 425.04L571.71 420.96" stroke="#111" stroke-width="1.15" fill="none"/>
<text x="28.15" y="17.5" font-size="25" textLength="23.3" lengthAdjust="spacingAndGlyphs" fill="#111">A.</text>
<text x="31.36" y="371.7" font-size="25.2" textLength="24.62" lengthAdjust="spacingAndGlyphs" fill="#111">B.</text>
<rect x="39.4" y="39.6" width="26.9" height="8.7" fill="#fff" stroke="#777" stroke-width="1"/>
<rect x="39.4" y="52.8" width="26.9" height="8.6" fill="#000" stroke="#333" stroke-width="1"/>
<rect x="39.4" y="65.6" width="26.9" height="9.2" fill="#b3b3b3" stroke="#666" stroke-width="1"/>
<text x="69.38" y="48.1" font-size="9.2" textLength="40.13" lengthAdjust="spacingAndGlyphs" fill="#111" stroke="#222" stroke-width="0.2">ACE timing</text>
<text x="69.39" y="60.8" font-size="9.2" textLength="14.52" lengthAdjust="spacingAndGlyphs" fill="#111" stroke="#222" stroke-width="0.2">ACE</text>
<text x="69.04" y="74.3" font-size="9.2" textLength="26.55" lengthAdjust="spacingAndGlyphs" fill="#111" stroke="#222" stroke-width="0.2">GROUP</text>
</svg>
</body></html>
